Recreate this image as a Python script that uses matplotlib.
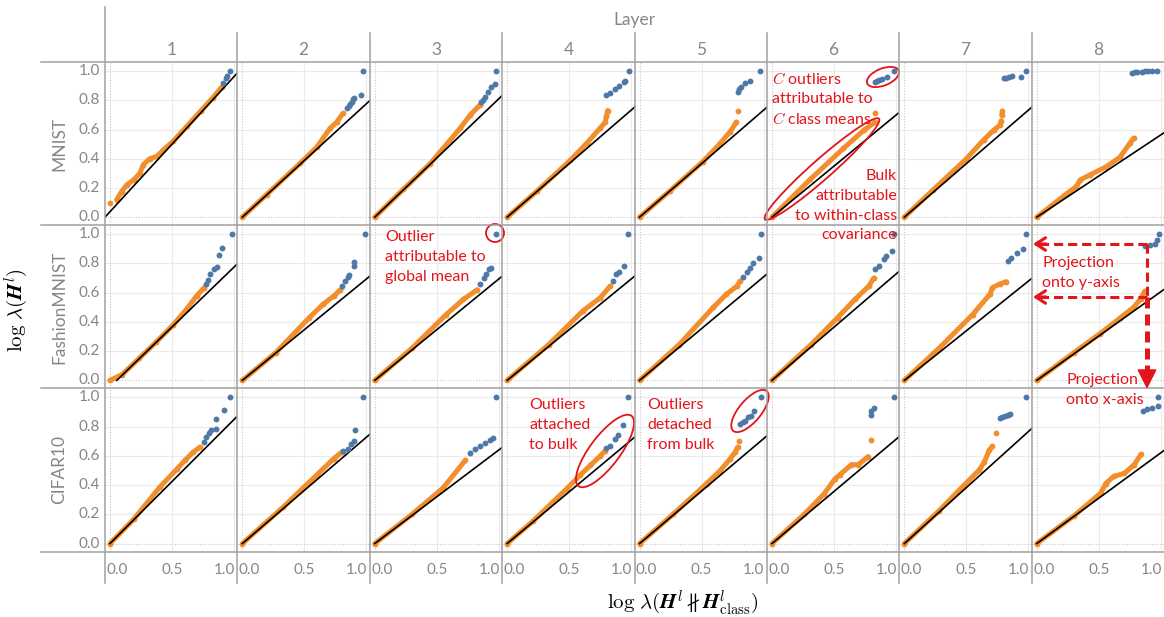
import numpy as np
import matplotlib.pyplot as plt
from matplotlib.patches import Ellipse

plt.rcParams['font.family'] = ['Lato', 'DejaVu Sans']
plt.rcParams['mathtext.fontset'] = 'cm'

nan = np.nan

datasets = ['MNIST', 'FashionMNIST', 'CIFAR10']
layers = ['1', '2', '3', '4', '5', '6', '7', '8']
x_ticks = [0.0, 0.5, 1.0]
y_ticks = [0.0, 0.2, 0.4, 0.6, 0.8, 1.0]

# -------------------------------
# Bulk eigenvalues (orange), one list per layer; nan splits off stray points
# -------------------------------
mnist_bulk_x = [
    [0.0, nan, 0.054, 0.094, 0.135, 0.19, 0.24, 0.27, 0.32, 0.38, 0.43, 0.51, 0.62, 0.73, 0.83, 0.90],
    [0.0, 0.196, 0.465, 0.60, 0.706, 0.76, 0.81],
    [0.0, 0.23, 0.445, 0.61, 0.69, 0.77, 0.85],
    [0.0, 0.24, 0.51, 0.64, 0.75, 0.79, 0.80, 0.81],
    [0.0, 0.245, 0.51, 0.65, 0.73, 0.78, nan, 0.79],
    [0.0, 0.31, 0.575, 0.74, 0.83, nan, 0.83],
    [0.0, 0.23, 0.50, 0.64, 0.72, 0.77, 0.78, nan, 0.785, 0.79],
    [0.0, 0.24, 0.32, 0.35, 0.43, 0.56, 0.67, 0.75, 0.78],
]
mnist_bulk_y = [
    [0.10, nan, 0.12, 0.175, 0.22, 0.255, 0.30, 0.36, 0.40, 0.417, 0.46, 0.52, 0.622, 0.725, 0.818, 0.89],
    [0.0, 0.155, 0.368, 0.48, 0.607, 0.65, 0.71],
    [0.0, 0.19, 0.365, 0.53, 0.61, 0.70, 0.77],
    [0.0, 0.178, 0.39, 0.505, 0.61, 0.65, 0.69, 0.73],
    [0.0, 0.18, 0.38, 0.505, 0.585, 0.65, nan, 0.73],
    [0.0, 0.26, 0.47, 0.595, 0.65, nan, 0.71],
    [0.0, 0.185, 0.40, 0.53, 0.595, 0.63, 0.66, nan, 0.70, 0.725],
    [0.0, 0.16, 0.21, 0.255, 0.29, 0.345, 0.41, 0.505, 0.54],
]
fashion_bulk_x = [
    [0.0, 0.098, 0.235, 0.37, 0.51, 0.62, 0.70, 0.76],
    [0.0, 0.27, 0.54, 0.65, 0.74, 0.79],
    [0.0, 0.30, 0.575, 0.715, 0.825],
    [0.0, 0.335, 0.61, 0.75, 0.83],
    [0.0, 0.32, 0.595, 0.70, 0.785, 0.81],
    [0.0, 0.315, 0.53, 0.67, 0.78, 0.82],
    [0.0, 0.28, 0.55, 0.69, 0.71, 0.77, 0.82],
    [0.0, 0.30, 0.51, 0.67, 0.78, 0.84, 0.87],
]
fashion_bulk_y = [
    [0.0, 0.04, 0.15, 0.26, 0.38, 0.49, 0.58, 0.635],
    [0.0, 0.19, 0.43, 0.52, 0.58, 0.62],
    [0.0, 0.22, 0.45, 0.555, 0.62],
    [0.0, 0.245, 0.475, 0.565, 0.645],
    [0.0, 0.245, 0.50, 0.59, 0.645, 0.68],
    [0.0, 0.245, 0.43, 0.555, 0.645, 0.70],
    [0.0, 0.22, 0.45, 0.59, 0.635, 0.66, 0.675],
    [0.0, 0.19, 0.32, 0.425, 0.50, 0.56, 0.61],
]
cifar_bulk_x = [
    [0.0, 0.19, 0.40, 0.54, 0.605, 0.67, 0.725],
    [0.0, 0.33, 0.60, 0.735, 0.80],
    [0.0, 0.30, 0.55, 0.73],
    [0.0, 0.21, 0.48, 0.59, 0.67, 0.75, 0.79],
    [0.0, 0.27, 0.54, 0.65, 0.73, 0.77, 0.79, nan, 0.80],
    [0.0, 0.26, 0.42, 0.505, 0.545, 0.64, 0.695, 0.775, nan, 0.795],
    [0.0, 0.28, 0.47, 0.605, 0.645, 0.685, 0.71, nan, 0.735],
    [0.0, 0.30, 0.515, 0.555, 0.62, 0.705, 0.785, 0.84],
]
cifar_bulk_y = [
    [0.0, 0.165, 0.385, 0.51, 0.57, 0.625, 0.66],
    [0.0, 0.25, 0.47, 0.58, 0.625],
    [0.0, 0.20, 0.38, 0.57],
    [0.0, 0.155, 0.375, 0.47, 0.535, 0.60, 0.635],
    [0.0, 0.20, 0.41, 0.50, 0.58, 0.625, 0.66, nan, 0.705],
    [0.0, 0.20, 0.34, 0.44, 0.47, 0.54, 0.54, 0.595, nan, 0.71],
    [0.0, 0.225, 0.39, 0.505, 0.56, 0.64, 0.665, nan, 0.76],
    [0.0, 0.19, 0.345, 0.41, 0.46, 0.48, 0.54, 0.61],
]

# -------------------------------
# Outlier eigenvalues (blue)
# -------------------------------
mnist_out_x = [
    [0.91, 0.935, 0.945, 0.97],
    [0.84, 0.86, 0.87, 0.88, 0.89, 0.90, 0.96, 0.975],
    [0.86, 0.875, 0.89, 0.915, 0.94, 0.97, 0.98],
    [0.80, 0.83, 0.87, 0.90, 0.94, 0.95, 0.98],
    [0.79, 0.80, 0.82, 0.85, 0.89, 0.97],
    [0.83, 0.845, 0.86, 0.89, 0.925, 0.98],
    [0.80, 0.82, 0.84, 0.865, 0.94, 0.98],
    [0.765, 0.79, 0.81, 0.85, 0.87, 0.90, 0.93, 0.97],
]
mnist_out_y = [
    [0.92, 0.95, 0.965, 1.0],
    [0.745, 0.76, 0.775, 0.79, 0.81, 0.815, 0.835, 1.0],
    [0.79, 0.80, 0.82, 0.86, 0.89, 0.91, 1.0],
    [0.835, 0.85, 0.88, 0.90, 0.925, 0.935, 1.0],
    [0.86, 0.875, 0.89, 0.915, 0.93, 1.0],
    [0.925, 0.935, 0.94, 0.945, 0.96, 1.0],
    [0.95, 0.955, 0.96, 0.965, 0.96, 1.0],
    [0.99, 0.995, 0.995, 0.995, 1.0, 1.0, 1.0, 1.0],
]
fashion_out_x = [
    [0.77, 0.79, 0.81, 0.84, 0.86, 0.88, 0.90, 0.98],
    [0.805, 0.83, 0.85, 0.86, 0.90, 0.90, 0.985],
    [0.85, 0.88, 0.895, 0.92, 0.935, 0.975],
    [0.855, 0.88, 0.90, 0.945, 0.97],
    [0.835, 0.865, 0.89, 0.915, 0.96, 0.975],
    [0.83, 0.86, 0.90, 0.92, 0.965, 0.98],
    [0.835, 0.86, 0.905, 0.96, 0.98],
    [0.87, 0.91, 0.95, 0.97, 0.985],
]
fashion_out_y = [
    [0.66, 0.69, 0.73, 0.76, 0.775, 0.855, 0.905, 1.0],
    [0.645, 0.68, 0.71, 0.72, 0.78, 0.81, 1.0],
    [0.66, 0.70, 0.725, 0.76, 0.77, 1.0],
    [0.68, 0.725, 0.745, 0.78, 1.0],
    [0.71, 0.74, 0.77, 0.80, 0.835, 1.0],
    [0.76, 0.78, 0.83, 0.85, 0.885, 1.0],
    [0.82, 0.84, 0.875, 0.90, 1.0],
    [0.92, 0.925, 0.935, 0.96, 1.0],
]
cifar_out_x = [
    [0.76, 0.77, 0.80, 0.815, 0.855, 0.855, 0.915, 0.97],
    [0.81, 0.85, 0.875, 0.90, 0.91, 0.975],
    [0.77, 0.81, 0.85, 0.89, 0.93, 0.95, 0.98],
    [0.80, 0.83, 0.87, 0.89, 0.93, 0.975],
    [0.81, 0.83, 0.85, 0.875, 0.90, 0.92, 0.98],
    [0.795, 0.80, 0.82, 0.98],
    [0.77, 0.79, 0.81, 0.835, 0.855, 0.98],
    [0.855, 0.89, 0.93, 0.975, 0.975],
]
cifar_out_y = [
    [0.695, 0.73, 0.755, 0.78, 0.785, 0.855, 0.915, 1.0],
    [0.635, 0.645, 0.68, 0.705, 0.78, 1.0],
    [0.62, 0.645, 0.665, 0.69, 0.71, 0.725, 1.0],
    [0.655, 0.67, 0.715, 0.745, 0.81, 1.0],
    [0.82, 0.83, 0.84, 0.865, 0.875, 0.91, 1.0],
    [0.88, 0.905, 0.925, 1.0],
    [0.86, 0.865, 0.87, 0.88, 0.89, 1.0],
    [0.91, 0.92, 0.925, 0.94, 1.0],
]

# -------------------------------
# Reference lines: start on y = 0, end at x = 1.03
# -------------------------------
mnist_line_x0 = [-0.04, 0, 0, 0, 0, 0, 0, 0]
mnist_line_y1 = [0.99, 0.80, 0.835, 0.755, 0.755, 0.72, 0.755, 0.58]
fashion_line_x0 = [0.055, 0, 0, 0, 0, 0, 0, 0]
fashion_line_y1 = [0.80, 0.715, 0.715, 0.715, 0.73, 0.75, 0.70, 0.625]
cifar_line_x0 = [0, 0, 0, 0, 0, 0, 0, 0]
cifar_line_y1 = [0.875, 0.75, 0.66, 0.73, 0.74, 0.735, 0.79, 0.64]

bulk_x = [mnist_bulk_x, fashion_bulk_x, cifar_bulk_x]
bulk_y = [mnist_bulk_y, fashion_bulk_y, cifar_bulk_y]
out_x = [mnist_out_x, fashion_out_x, cifar_out_x]
out_y = [mnist_out_y, fashion_out_y, cifar_out_y]
line_x0 = [mnist_line_x0, fashion_line_x0, cifar_line_x0]
line_y1 = [mnist_line_y1, fashion_line_y1, cifar_line_y1]

# -------------------------------
# Styling
# -------------------------------
ORANGE = '#f28e2b'
BLUE = '#4e79a7'
GREY = '#868686'
RULE = '#a0a0a0'
RED = '#e3141b'

W, H = 1164, 617
left0, top0 = 105, 62
pw, ph = 132.4, 163.2

fig = plt.figure(figsize=(W / 100, H / 100), dpi=100)

for r in range(3):
    for c in range(8):
        ax = fig.add_axes([(left0 + c * pw) / W, 1 - (top0 + (r + 1) * ph) / H, pw / W, ph / H])
        ax.set_xlim(-0.04, 1.027)
        ax.set_ylim(-0.055, 1.062)
        ax.axis('off')

        for gx in x_ticks[1:]:
            ax.axvline(gx, color='#ebebeb', lw=0.8, zorder=0)
        for gy in y_ticks[1:]:
            ax.axhline(gy, color='#ebebeb', lw=0.8, zorder=0)
        ax.axvline(0, color='#c8c8c8', lw=0.8, ls=(0, (1, 1.5)), zorder=0)
        ax.axhline(0, color='#c8c8c8', lw=0.8, ls=(0, (1, 1.5)), zorder=0)

        bx = np.array(bulk_x[r][c], dtype=float)
        by = np.array(bulk_y[r][c], dtype=float)
        ax.plot(bx, by, color=ORANGE, lw=3.6, solid_capstyle='round',
                solid_joinstyle='round', marker='o', ms=4.2, mew=0, zorder=2)
        ax.plot([line_x0[r][c], 1.03], [0, line_y1[r][c]], color='black', lw=1.2, zorder=3)
        ax.scatter(out_x[r][c], out_y[r][c], s=18, color=BLUE, lw=0, zorder=4)

        if c == 0:
            for v in y_ticks:
                ax.text(-0.038, v, f'{v:.1f}', transform=ax.get_yaxis_transform(),
                        ha='right', va='center', color=GREY, fontsize=11)
        if r == 2:
            for v, pos, ha in zip(x_ticks, [-0.03, 0.5, 1.008], ['left', 'center', 'right']):
                ax.text(pos, -0.113, f'{v:.1f}', transform=ax.get_xaxis_transform(),
                        ha=ha, va='center', color=GREY, fontsize=11)

# -------------------------------
# Frame, headers and annotations (pixel coordinates)
# -------------------------------
ov = fig.add_axes([0, 0, 1, 1], zorder=10)
ov.set_xlim(0, W)
ov.set_ylim(H, 0)
ov.axis('off')
ov.patch.set_alpha(0)

for k in range(4):
    y = top0 + k * ph
    ov.plot([41, W], [y, y], color=RULE, lw=1.1)
ov.plot([left0, left0], [7, 583], color=RULE, lw=1.1)
for c in range(1, 8):
    x = left0 + c * pw
    ov.plot([x, x], [33, 583], color=RULE, lw=1.1)

ov.text(left0 + 4 * pw, 20, 'Layer', ha='center', va='center', color=GREY, fontsize=12.5)
for c, name in enumerate(layers):
    ov.text(left0 + (c + 0.5) * pw, 50, name, ha='center', va='center', color=GREY, fontsize=12.5)
for r, name in enumerate(datasets):
    ov.text(59, top0 + (r + 0.5) * ph, name, rotation=90, ha='center', va='center',
            color=GREY, fontsize=12.5)

ov.text(17, 310, r'$\log\,\lambda(\boldsymbol{H}^l)$', rotation=90, ha='center', va='center',
        fontsize=15)
ov.text(683, 603, r'$\log\,\lambda(\boldsymbol{H}^l \nparallel \boldsymbol{H}^l_{\mathrm{class}})$',
        ha='center', va='center', fontsize=15)


def red_lines(x, y0, lines, ha='left', step=19.8):
    for i, s in enumerate(lines):
        ov.text(x, y0 + i * step, s, ha=ha, va='center', color=RED, fontsize=11.5)


red_lines(772, 79, ['$C$ outliers', 'attributable to', '$C$ class means'])
red_lines(897, 176, ['Bulk', 'attributable', 'to within-class', 'covariance'], ha='right')
red_lines(385, 237, ['Outlier', 'attributable to', 'global mean'])
red_lines(529, 405, ['Outliers', 'attached', 'to bulk'])
red_lines(647, 405, ['Outliers', 'detached', 'from bulk'])
red_lines(1042, 263, ['Projection', 'onto y-axis'])
red_lines(1066, 380, ['Projection', 'onto x-axis'])

for (cx, cy), w, h, ang in [((883, 77), 34, 17, -22), ((822, 169), 152, 20, -41.4),
                            ((495, 233), 18, 18, 0), ((605, 451), 88, 30, -53),
                            ((750, 411), 52, 22, -50)]:
    ov.add_patch(Ellipse((cx, cy), w, h, angle=ang, fill=False, ec=RED, lw=1.3))

# projection arrows
dash = (0, (3, 1.6))
for y in [244, 297]:
    ov.plot([1147, 1040], [y, y], color=RED, lw=2.2, ls=dash)
    ov.annotate('', xy=(1033, y), xytext=(1046, y),
                arrowprops=dict(arrowstyle='->,head_length=0.7,head_width=0.45',
                                lw=2.2, color=RED, shrinkA=0, shrinkB=0), annotation_clip=False)
ov.plot([1147, 1147], [244, 297], color=RED, lw=2.2, ls=dash)
ov.plot([1147, 1147], [297, 376], color=RED, lw=3.6, ls=(0, (2.2, 1.2)))
ov.annotate('', xy=(1147, 389), xytext=(1147, 374),
            arrowprops=dict(arrowstyle='-|>,head_length=0.9,head_width=0.45',
                            lw=1, color=RED, shrinkA=0, shrinkB=0, mutation_scale=14))

fig.savefig('out.png', dpi=100)
